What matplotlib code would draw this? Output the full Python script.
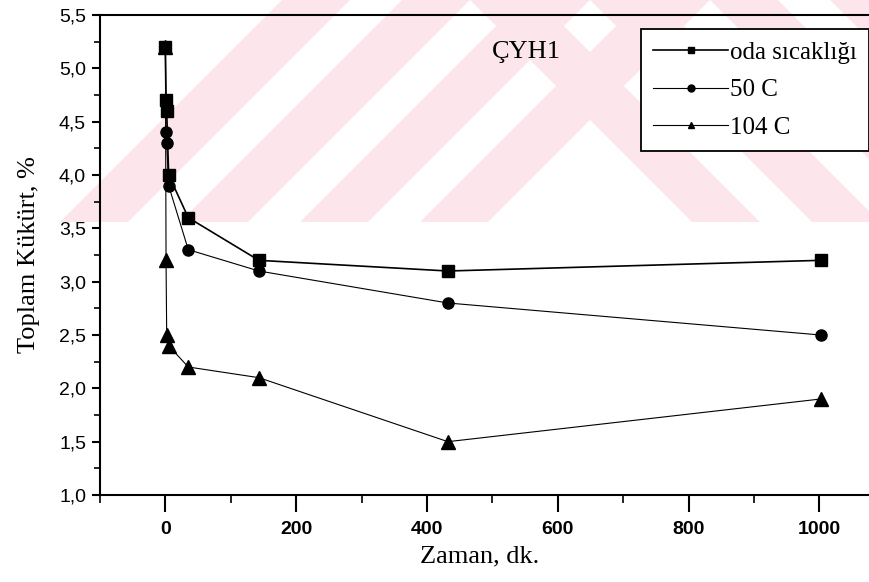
import matplotlib
matplotlib.use('Agg')
import matplotlib.pyplot as plt
from matplotlib.ticker import MultipleLocator, FuncFormatter
from matplotlib.patches import Polygon

# sampling times (dk.)
zaman = [0, 1, 2, 5, 35, 143, 432, 1002]

# total sulphur (%) for each treatment temperature
oda_sicakligi = [5.2, 4.7, 4.6, 4.0, 3.6, 3.2, 3.1, 3.2]
c50 = [5.2, 4.4, 4.3, 3.9, 3.3, 3.1, 2.8, 2.5]
c104 = [5.2, 3.2, 2.5, 2.4, 2.2, 2.1, 1.5, 1.9]

labels = ['oda sıcaklığı', '50 C', '104 C']
sample_name = 'ÇYH1'

SERIF = ['Liberation Serif', 'DejaVu Serif']
SANS = ['Liberation Sans Narrow', 'Liberation Sans', 'DejaVu Sans']

fig = plt.figure(figsize=(8.7, 5.82), dpi=100)

# pink watermark stripes behind the plot (page pixel coordinates)
bg = fig.add_axes([0, 0, 1, 1], zorder=0)
bg.set_xlim(0, 870)
bg.set_ylim(582, 0)
bg.axis('off')
pink = '#fce6eb'
region = Polygon([(45, 222), (267, 0), (870, 0), (870, 222)], closed=True,
                 facecolor='none', edgecolor='none')
bg.add_patch(region)
apex, period, band = 590, 120, 68
for k in range(-1, 8):
    a = apex - k * period
    left = Polygon([(a, 0), (a - band, 0), (a - band - 300, 300), (a - 300, 300)],
                   closed=True, facecolor=pink, edgecolor='none')
    b = apex + k * period
    right = Polygon([(b, 0), (b + band, 0), (b + band + 300, 300), (b + 300, 300)],
                    closed=True, facecolor=pink, edgecolor='none')
    for p in (left, right):
        bg.add_patch(p)
        p.set_clip_path(region)

ax = fig.add_axes([100 / 870, 87 / 582, 769 / 870, 480 / 582], zorder=1)
ax.patch.set_alpha(0)

ax.plot(zaman, oda_sicakligi, color='black', lw=1.2, marker='s', ms=8,
        label=labels[0])
ax.plot(zaman, c50, color='black', lw=0.8, marker='o', ms=8, label=labels[1])
ax.plot(zaman, c104, color='black', lw=0.8, marker='^', ms=10, label=labels[2])

ax.set_xlim(-100, 1076)
ax.set_ylim(1.0, 5.5)
ax.xaxis.set_major_locator(MultipleLocator(200))
ax.xaxis.set_minor_locator(MultipleLocator(100))
ax.yaxis.set_major_locator(MultipleLocator(0.5))
ax.yaxis.set_minor_locator(MultipleLocator(0.25))
ax.yaxis.set_major_formatter(FuncFormatter(lambda v, p: f'{v:.1f}'.replace('.', ',')))

ax.tick_params(axis='x', which='major', direction='out', length=12, width=1.5,
               pad=7, top=False)
ax.tick_params(axis='x', which='minor', direction='out', length=6, width=1.2, top=False)
ax.tick_params(axis='y', which='major', direction='out', length=6, width=1.5,
               pad=4, right=False)
ax.tick_params(axis='y', which='minor', direction='out', length=4, width=1.2, right=False)
for t in ax.get_xticklabels():
    t.set_fontfamily(SANS)
    t.set_fontsize(14)
    t.set_fontweight('bold')
for t in ax.get_yticklabels():
    t.set_fontfamily(SANS)
    t.set_fontsize(14)

for s in ax.spines.values():
    s.set_linewidth(1.5)
ax.spines['right'].set_visible(False)

ax.set_ylabel('Toplam Kükürt, %', family=SERIF, fontsize=19, va='center')
ax.yaxis.set_label_coords(-0.092, 0.5)
ax.set_xlabel('Zaman, dk.', family=SERIF, fontsize=19, va='center')
ax.xaxis.set_label_coords(0.494, -0.127)

ax.text(0.555, 0.923, sample_name, transform=ax.transAxes, family=SERIF,
        fontsize=19, ha='center', va='center')

leg = ax.legend(loc='upper right', bbox_to_anchor=(1.0, 0.971), borderaxespad=0,
                prop={'family': SERIF, 'size': 18}, handlelength=3.0,
                handletextpad=0.05, labelspacing=0.6, borderpad=0.5,
                fancybox=False, framealpha=1)
leg.get_frame().set_edgecolor('black')
leg.get_frame().set_linewidth(1.3)
for h in leg.legend_handles:
    h.set_markersize(5)

fig.savefig('out.png', dpi=100)
